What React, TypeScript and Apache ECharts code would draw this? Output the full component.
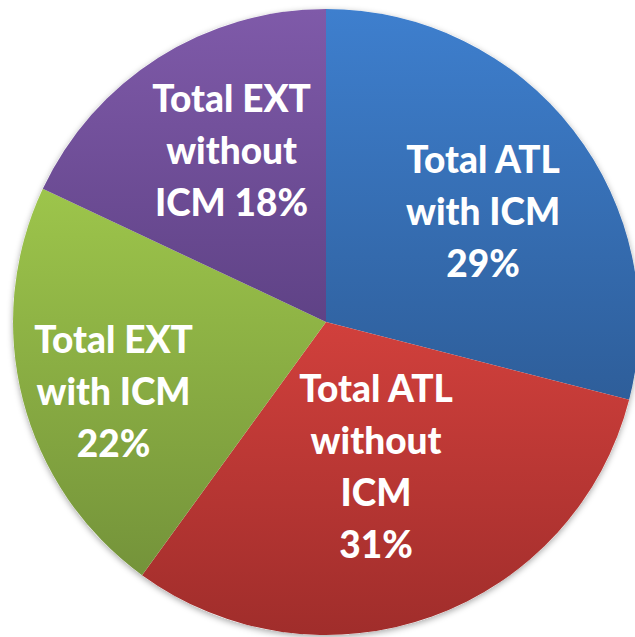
import React, { useEffect, useRef } from "react";
import * as echarts from "echarts";

const categories = [
  "Total ATL with ICM",
  "Total ATL without ICM",
  "Total EXT with ICM",
  "Total EXT without ICM",
];
const values = [29, 31, 22, 18];
const labelTexts = [
  "Total ATL\nwith ICM",
  "Total ATL\nwithout\nICM",
  "Total EXT\nwith ICM",
  "Total EXT\nwithout\nICM",
];
const percentJoin = ["\n", "\n", "\n", " "];

const gradients = [
  ["#3e7fce", "#2e5e9a"],
  ["#d1403c", "#a02d2b"],
  ["#9dc54b", "#74933a"],
  ["#7f5aa9", "#5f4286"],
];
const labelOffsets = [
  [31, -14],
  [-4, -7],
  [-58, 29],
  [-9, -38],
];

export default function App() {
  const ref = useRef<HTMLDivElement>(null);
  useEffect(() => {
    if (!ref.current) return;
    const chart = echarts.init(ref.current, null, { renderer: "svg" });
    const center = [326, 322];
    const radius = 313;
    chart.setOption({
      animation: false,
      backgroundColor: "#ffffff",
      series: [
        {
          type: "pie",
          silent: true,
          center,
          radius,
          z: 1,
          label: { show: false },
          labelLine: { show: false },
          itemStyle: {
            color: "#ffffff",
            shadowBlur: 6,
            shadowColor: "rgba(0,0,0,0.35)",
            shadowOffsetX: 0,
            shadowOffsetY: 2,
          },
          data: [{ value: 1, name: "" }],
        },
        {
          type: "pie",
          center,
          radius,
          startAngle: 90,
          clockwise: true,
          z: 2,
          itemStyle: { borderWidth: 0 },
          label: {
            show: true,
            position: "inside",
            color: "#ffffff",
            fontFamily: "Lato",
            fontWeight: 900,
            fontSize: 37,
            lineHeight: 52,
            align: "center",
          },
          labelLayout: (params: any) => {
            const o = labelOffsets[params.dataIndex];
            return { dx: o[0], dy: o[1] };
          },
          labelLine: { show: false },
          data: categories.map((name, i) => ({
            name,
            value: values[i],
            itemStyle: {
              color: new echarts.graphic.LinearGradient(0, 0, 0, 1, [
                { offset: 0, color: gradients[i][0] },
                { offset: 1, color: gradients[i][1] },
              ]),
            },
            label: {
              formatter: labelTexts[i] + percentJoin[i] + values[i] + "%",
            },
          })),
        },
      ],
    });
    return () => chart.dispose();
  }, []);
  return (
    <div
      ref={ref}
      style={{ position: "fixed", left: 0, top: 0, width: 635, height: 637 }}
    />
  );
}
